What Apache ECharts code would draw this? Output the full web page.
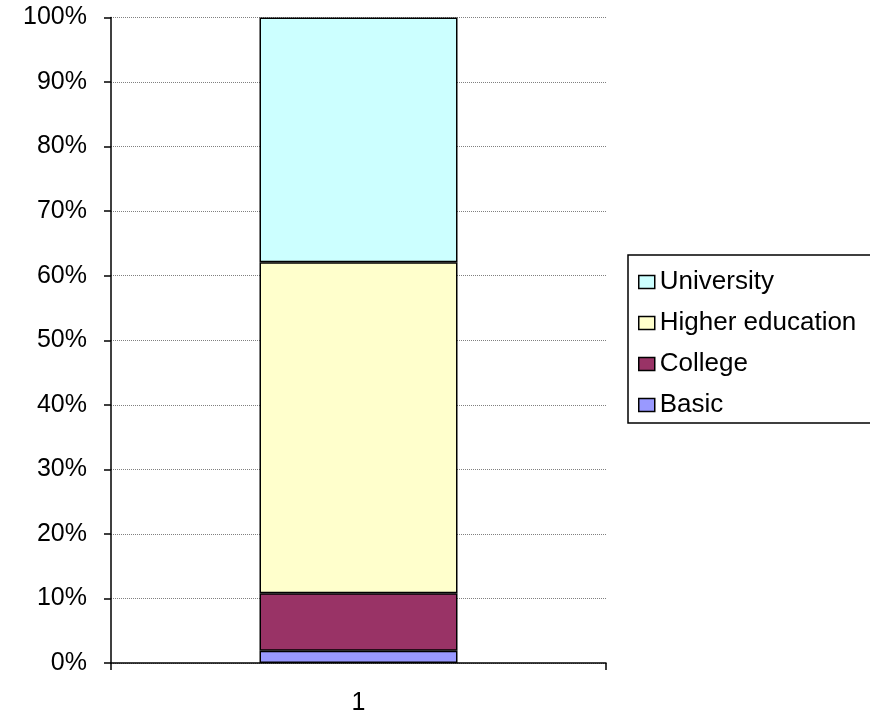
<!DOCTYPE html>
<html><head><meta charset="utf-8">
<script src="https://cdn.jsdelivr.net/npm/echarts@6/dist/echarts.min.js"></script>
<style>html,body{margin:0;padding:0;background:#fff}#c{width:870px;height:712px}</style>
</head><body><div id="c"></div>
<script>
var categories = ['1'];
var basic = [1.9];
var college = [8.9];
var higherEducation = [51.3];
var university = [37.9];
var legendOrder = ['University', 'Higher education', 'College', 'Basic'];

var font = '"Liberation Sans", Arial, sans-serif';
var chart = echarts.init(document.getElementById('c'), null, {renderer: 'canvas'});
function s(name, data, color) {
  return {name: name, type: 'bar', stack: 'total', data: data, barWidth: '40%',
    itemStyle: {color: color, borderColor: '#000', borderWidth: 1.5}};
}
chart.setOption({
  animation: false,
  backgroundColor: '#fff',
  textStyle: {fontFamily: font, color: '#000'},
  grid: {left: 111, right: 264, top: 17.5, bottom: 49, containLabel: false, outerBoundsMode: 'none'},
  legend: {
    orient: 'vertical', left: 628, top: 255,
    data: legendOrder,
    padding: [13, 40, 4, 10],
    itemWidth: 16, itemHeight: 13, itemGap: 13, itemTextGap: 9,
    borderColor: '#000', borderWidth: 1.5, backgroundColor: '#fff',
    textStyle: {fontFamily: font, fontSize: 26, color: '#000', lineHeight: 28},
    icon: 'rect',
    itemStyle: {borderColor: '#000', borderWidth: 1.5}
  },
  xAxis: {
    type: 'category', data: categories,
    axisLine: {lineStyle: {color: '#000', width: 1.5}},
    axisTick: {show: true, length: 7, lineStyle: {color: '#000', width: 1.5}},
    axisLabel: {fontFamily: font, fontSize: 25, color: '#000', margin: 28}
  },
  yAxis: {
    type: 'value', min: 0, max: 100, interval: 10,
    axisLine: {show: true, lineStyle: {color: '#000', width: 1.5}},
    axisTick: {show: true, length: 7, lineStyle: {color: '#000', width: 1.5}},
    axisLabel: {fontFamily: font, fontSize: 25, color: '#000', margin: 24, formatter: '{value}%'},
    splitLine: {show: true, lineStyle: {color: '#808080', type: 'dotted', width: 1}}
  },
  series: [
    s('Basic', basic, '#9999FF'),
    s('College', college, '#993366'),
    s('Higher education', higherEducation, '#FFFFCC'),
    s('University', university, '#CCFFFF')
  ]
});
</script></body></html>
